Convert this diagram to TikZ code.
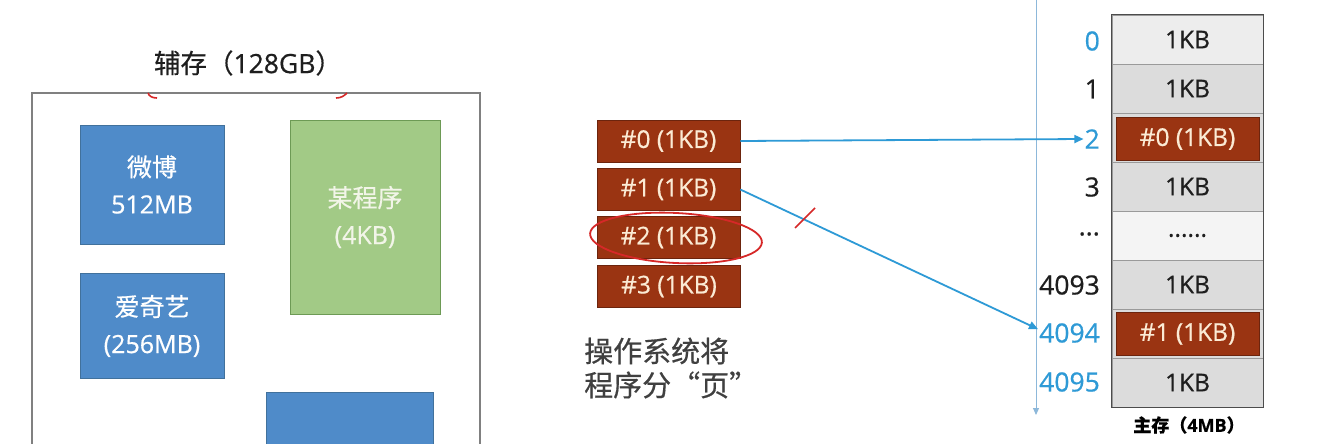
\documentclass[tikz,border=0pt]{standalone}
\usepackage{fontspec}
\setmainfont{Open Sans}[FakeBold=0.6]
\newfontfamily\cjk{Noto Sans CJK SC}[FakeBold=0.5]
\usetikzlibrary{arrows.meta}
\definecolor{blu}{HTML}{4F8BC9}
\definecolor{blub}{HTML}{41719C}
\definecolor{grn}{HTML}{A2CA86}
\definecolor{grnb}{HTML}{6D9A55}
\definecolor{grntxt}{HTML}{F2F5E8}
\definecolor{brn}{HTML}{9A3412}
\definecolor{cream}{HTML}{FBEBD5}
\definecolor{lblue}{HTML}{2E9AD6}
\definecolor{axisc}{HTML}{8DB8DA}
\definecolor{cellg}{HTML}{DCDCDC}
\definecolor{celll}{HTML}{EDEDED}
\definecolor{cellb}{HTML}{9A9A9A}
\definecolor{penred}{HTML}{D62828}
\definecolor{inkc}{HTML}{1E1E1E}
\begin{document}
\begin{tikzpicture}[x=1pt,y=-1pt,
  appbox/.style={draw=blub, fill=blu, text=white, align=center, inner sep=0pt,
    font=\fontsize{25}{37}\selectfont, line width=1pt},
  progbox/.style={draw=grnb, fill=grn, text=grntxt, align=center, inner sep=0pt,
    font=\fontsize{25}{37}\selectfont, line width=1pt},
  pagebox/.style={draw=brn!70!black, fill=brn, text=cream, inner sep=0pt,
    minimum width=143pt, minimum height=42pt, font=\fontsize{24.5}{28}\selectfont, line width=0.6pt},
  cell/.style={draw=cellb, fill=cellg, inner sep=0pt, minimum width=151pt, text=inkc,
    minimum height=49pt, font=\fontsize{24.5}{28}\selectfont, line width=0.8pt},
  addr/.style={anchor=east, inner sep=1pt, text=inkc, font=\fontsize{26.5}{30}\selectfont},
  link/.style={lblue, line width=1.8pt, -{Triangle[length=9pt,width=8pt]}}
]
\useasboundingbox (0,0) rectangle (1338,444);
\clip (0,0) rectangle (1338,444);
\fill[white] (0,0) rectangle (1338,444);

% ---- secondary storage panel ----
\node[text=inkc] (title) at (248,63) {\fontsize{26.5}{30}\selectfont{\cjk 辅存（}128GB{\cjk ）}};
\draw[gray, line width=1.2pt] (32,460) -- (32,93) -- (480,93) -- (480,460);
\draw[penred, line width=1.6pt] (148,93) .. controls (149,96) and (152,98) .. (157,98);
\draw[penred, line width=1.6pt] (336,98) .. controls (341,98) and (344,96) .. (347,93);

\node[appbox, minimum width=144pt, minimum height=119pt] (weibo) at (152,184.5)
  {{\cjk 微博}\\512MB};
\node[appbox, minimum width=144pt, minimum height=105pt] (iqiyi) at (152,326)
  {{\cjk 爱奇艺}\\(256MB)};
\node[progbox, minimum width=150pt, minimum height=194pt] (prog) at (365,217)
  {{\cjk 某程序}\\(4KB)};
\node[appbox, minimum width=167pt, minimum height=80pt] (other) at (349.5,432) {};

% ---- pages ----
\node[pagebox] (p0) at (668.5,141) {\#0 (1KB)};
\node[pagebox] (p1) at (668.5,189.5) {\#1 (1KB)};
\node[pagebox] (p2) at (668.5,237.5) {\#2 (1KB)};
\node[pagebox] (p3) at (669,286.5) {\#3 (1KB)};
\draw[penred, line width=1.8pt, rotate around={-3:(676,238)}] (676,238) ellipse [x radius=86, y radius=25];
\node[anchor=west, align=left, inner sep=0pt, text=inkc!85!white, font=\fontsize{29}{34}\selectfont\cjk] (caption) at (584,368)
  {操作系统将\\程序分“页”};

% ---- main memory ----
\coordinate (axtop) at (1036,0);
\coordinate (axbot) at (1036,415);
\draw[axisc, line width=1pt, -{Triangle[length=7pt,width=6pt]}] (axtop) -- (axbot);

\node[cell, fill=celll] (m0) at (1187.5,39.5) {1KB};
\node[cell] (m1) at (1187.5,88.5) {1KB};
\node[cell] (m2) at (1187.5,137.5) {};
\node[pagebox, minimum width=143pt, minimum height=43pt] (f0) at (1187.5,139) {\#0 (1KB)};
\node[cell] (m3) at (1187.5,186.5) {1KB};
\node[cell, fill=celll!60!white] (m4) at (1187.5,235.5) {......};
\node[cell] (m5) at (1187.5,284.5) {1KB};
\node[cell] (m6) at (1187.5,333.5) {};
\node[pagebox, minimum width=143pt, minimum height=43pt] (f1) at (1187.5,334) {\#1 (1KB)};
\node[cell] (m7) at (1187.5,382.5) {1KB};
\draw[black!70, line width=1.4pt] (m0.north west) rectangle (m7.south east);

\node[addr, text=lblue] (a0) at (1101,41) {0};
\node[addr] (a1) at (1101,89) {1};
\node[addr, text=lblue] (a2) at (1101,139) {2};
\node[addr] (a3) at (1101,187) {3};
\node[addr] (a4) at (1101,234) {...};
\node[addr] (a5) at (1101,285) {4093};
\node[addr, text=lblue] (a6) at (1101,333) {4094};
\node[addr, text=lblue] (a7) at (1101,382) {4095};

\node[text=black, font=\fontsize{18}{22}\selectfont\bfseries] (mlabel) at (1189,425) {{\cjk\bfseries 主存（}4MB{\cjk\bfseries ）}};

% ---- mapping arrows ----
\draw[link] (p0.east) -- (a2.west);
\draw[link] (p1.east) -- (a6.173);
\coordinate (tickA) at (795,228);
\coordinate (tickB) at (815,208);
\draw[penred, line width=1.6pt] (tickA) -- (tickB);
\end{tikzpicture}
\end{document}
